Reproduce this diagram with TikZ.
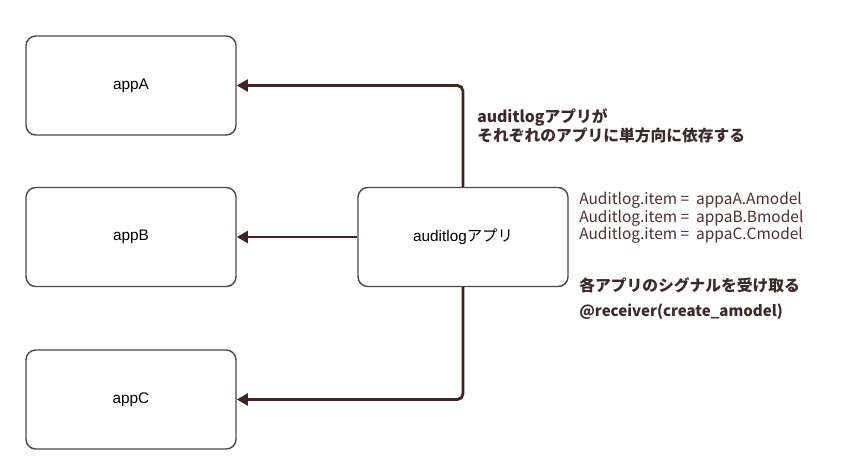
\documentclass[tikz,border=0pt]{standalone}
\usepackage{fontspec}
\usepackage{xcolor}
\setmainfont{Liberation Sans}
\newfontfamily\jp{Noto Sans CJK JP}
\usetikzlibrary{arrows.meta}
\definecolor{linkbrown}{HTML}{3E2626}
\definecolor{notebrown}{HTML}{3B2A2A}
\definecolor{codebrown}{HTML}{4C3030}
\definecolor{boxgray}{HTML}{4A4A4A}
\tikzset{
  appbox/.style={draw=boxgray,line width=1pt,rounded corners=7pt,
    minimum width=5.25cm,minimum height=2.475cm,font=\fontsize{10.9}{13}\selectfont},
  link/.style={draw=linkbrown,line width=2pt,rounded corners=4pt,
    -{Triangle[length=8pt,width=8.5pt]}},
  note/.style={text=notebrown,font=\jp\bfseries\fontsize{11.2}{13}\selectfont,anchor=west,align=left,inner sep=0pt},
  code/.style={text=codebrown,font=\jp\fontsize{11}{12.4}\selectfont,anchor=north west,align=left,inner sep=0pt}
}
\begin{document}
\begin{tikzpicture}[x=0.025cm,y=-0.025cm]
        \useasboundingbox (0,0) rectangle (848,463);
        % App boxes
        \node[appbox] (appA) at (131,85.5) {appA};
        \node[appbox] (appB) at (131,237) {appB};
        \node[appbox] (appC) at (131,399.5) {appC};
        % Central box
        \node[appbox] (audit) at (463,237) {auditlog{\jp アプリ}};
        % Dependencies
        \draw[link] (audit.north) |- (appA.east);
        \draw[link] (audit.west) -- (appB.east);
        \draw[link] (audit.south) |- (appC.east);
        % Notes
        \node[note] (dep) at (477,126) {auditlogアプリが\\それぞれのアプリに単方向に依存する};
        \node[code] (items) at (579,192) {Auditlog.item =\ \ appaA.Amodel\\Auditlog.item =\ \ appaB.Bmodel\\Auditlog.item =\ \ appaC.Cmodel};
        \node[note] (signal) at (579,285) {各アプリのシグナルを受け取る};
        \node[note,font=\jp\bfseries\fontsize{10.7}{13}\selectfont] (recv) at (579,312) {@receiver(create\_amodel)};
\end{tikzpicture}
\end{document}
